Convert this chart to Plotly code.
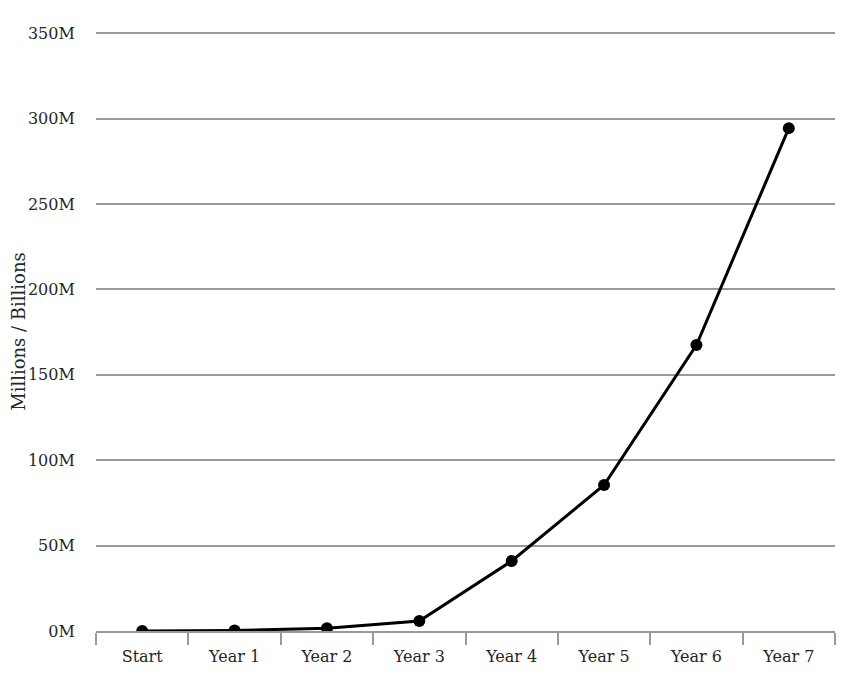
import plotly.graph_objects as go

categories = ["Start", "Year 1", "Year 2", "Year 3", "Year 4", "Year 5", "Year 6", "Year 7"]
values = [0, 0.3e6, 1.6e6, 5.8e6, 41e6, 85.5e6, 167.5e6, 294.5e6]
ytick_vals = [0, 50e6, 100e6, 150e6, 200e6, 250e6, 300e6, 350e6]
ytick_text = ["0M", "50M", "100M", "150M", "200M", "250M", "300M", "350M"]

font_family = "DejaVu Serif"
text_color = "#262626"

fig = go.Figure()
fig.add_trace(go.Scatter(
    x=categories, y=values, mode="lines+markers",
    line=dict(color="#000000", width=3),
    marker=dict(color="#000000", size=12),
    showlegend=False,
))

fig.update_layout(
    width=846, height=668,
    margin=dict(l=88, r=19, t=24, b=45),
    plot_bgcolor="white", paper_bgcolor="white",
    font=dict(family=font_family, size=16, color=text_color),
    xaxis=dict(
        type="category",
        range=[-0.5, 7.5],
        showgrid=False, automargin=False,
        showline=True, linecolor="#999999", linewidth=2,
        ticks="outside", tickson="boundaries", ticklen=12, tickcolor="#999999", tickwidth=2,
        ticklabelstandoff=10,
        tickfont=dict(family=font_family, size=16, color=text_color),
    ),
    yaxis=dict(
        range=[0, 350.8e6],
        tickvals=ytick_vals, ticktext=ytick_text,
        showgrid=True, gridcolor="#999999", gridwidth=2,
        zeroline=False, showline=False, automargin=False,
        ticks="outside", ticklen=17, tickcolor="rgba(0,0,0,0)",
        tickfont=dict(family=font_family, size=16, color=text_color),
        title=dict(text="Millions / Billions", font=dict(family=font_family, size=18, color=text_color), standoff=4),
    ),
)

fig.write_html("out.html")
